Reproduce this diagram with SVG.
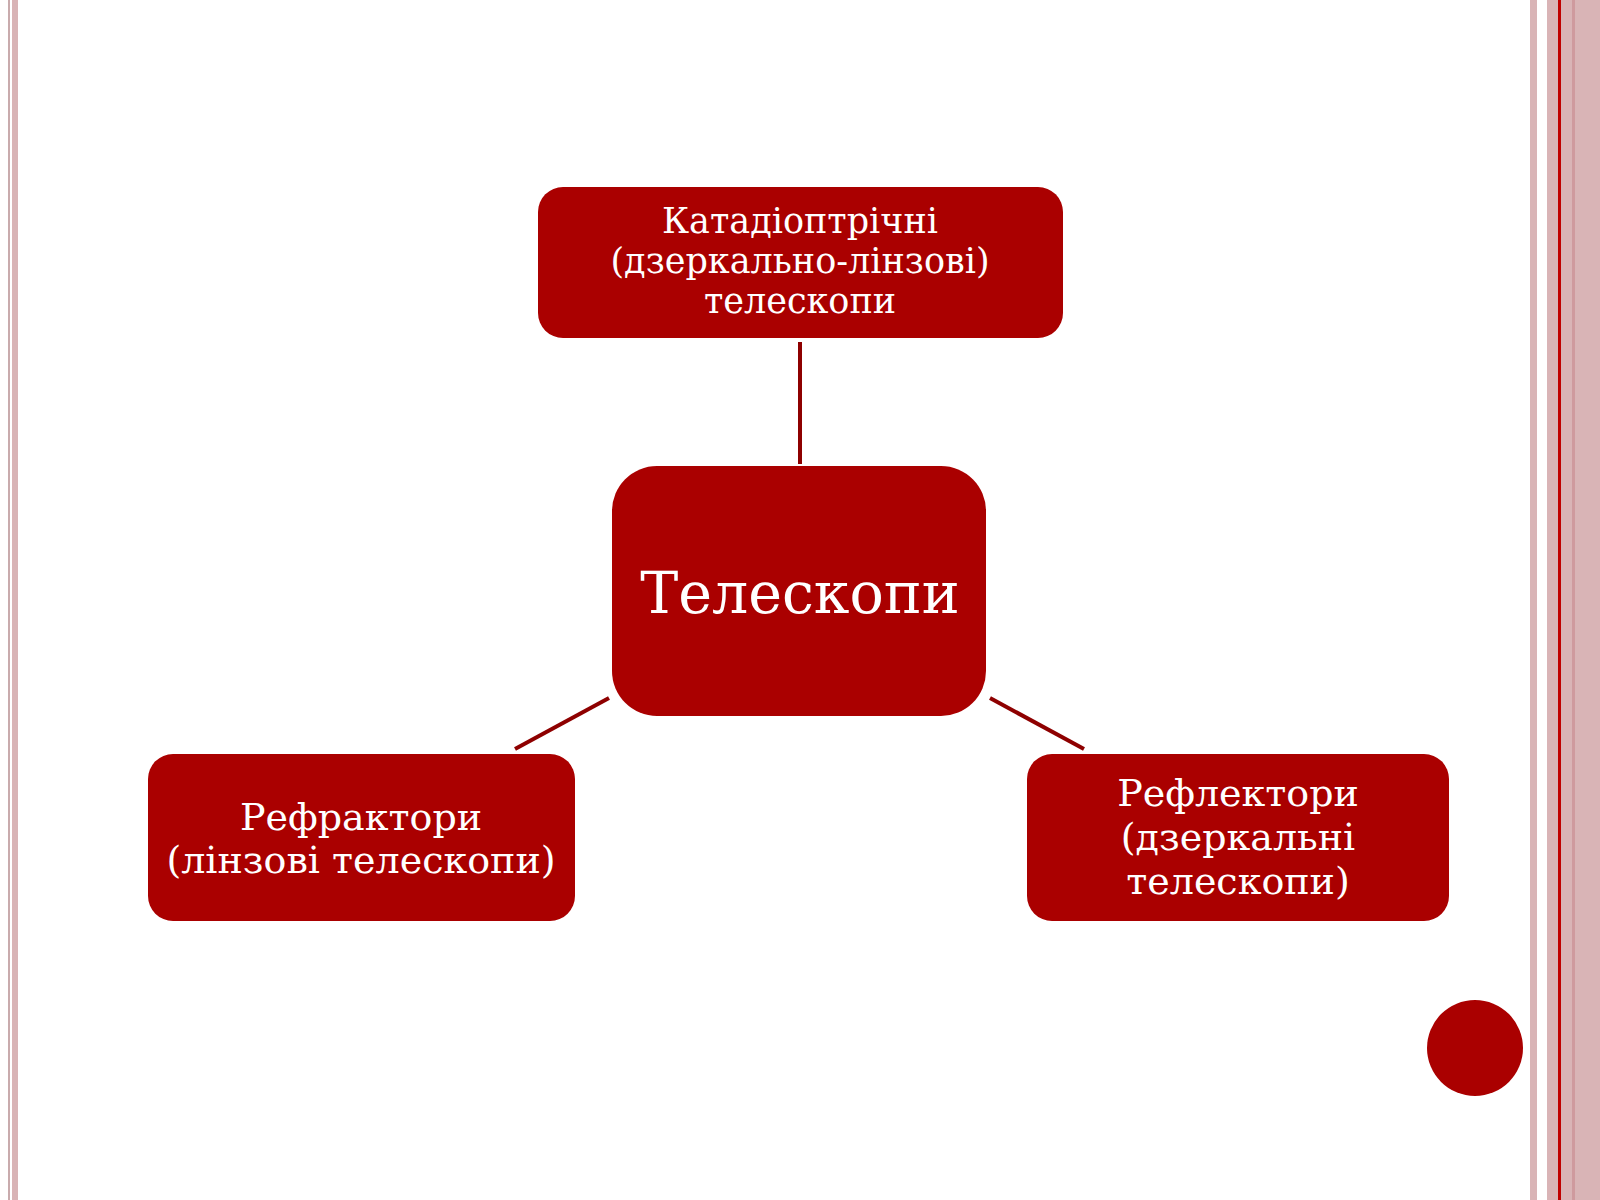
<svg xmlns="http://www.w3.org/2000/svg" width="1600" height="1200" viewBox="0 0 1600 1200">
<style>
.node{fill:#aa0000}
.lbl{font-family:"DejaVu Serif","Liberation Serif",serif;fill:#ffffff;text-anchor:middle}
.conn{stroke:#8e0000;stroke-width:4;fill:none}
.stripe{fill:#d9b4b6}
</style>
<rect width="1600" height="1200" fill="#ffffff"/>
<g id="frame">
<rect x="8" y="0" width="2" height="1200" fill="#c9abad"/>
<rect x="12" y="0" width="6" height="1200" class="stripe"/>
<rect x="1530" y="0" width="7" height="1200" class="stripe"/>
<rect x="1547" y="0" width="53" height="1200" class="stripe"/>
<rect x="1558" y="0" width="3" height="1200" fill="#c00000"/>
<rect x="1572" y="0" width="3" height="1200" fill="#cf9a9e"/>
<circle cx="1475" cy="1048" r="48" fill="#aa0000"/>
</g>
<g id="connectors">
<line class="conn" x1="800" y1="342" x2="800" y2="464"/>
<line class="conn" x1="609" y1="698" x2="515" y2="749"/>
<line class="conn" x1="990" y1="698" x2="1084" y2="749"/>
</g>
<g id="node-top">
<rect class="node" x="538" y="187" width="525" height="151" rx="25"/>
<text class="lbl" font-size="35"><tspan x="800" y="233">Катадіоптрічні</tspan><tspan x="800" y="273">(дзеркально-лінзові)</tspan><tspan x="800" y="313">телескопи</tspan></text>
</g>
<g id="node-center">
<rect class="node" x="612" y="466" width="374" height="250" rx="45"/>
<text class="lbl" font-size="57" x="800" y="613">Телескопи</text>
</g>
<g id="node-left">
<rect class="node" x="148" y="754" width="427" height="167" rx="25"/>
<text class="lbl" font-size="38"><tspan x="361" y="830">Рефрактори</tspan><tspan x="361" y="873">(лінзові телескопи)</tspan></text>
</g>
<g id="node-right">
<rect class="node" x="1027" y="754" width="422" height="167" rx="25"/>
<text class="lbl" font-size="38"><tspan x="1238" y="806">Рефлектори</tspan><tspan x="1238" y="850">(дзеркальні</tspan><tspan x="1238" y="894">телескопи)</tspan></text>
</g>
</svg>
